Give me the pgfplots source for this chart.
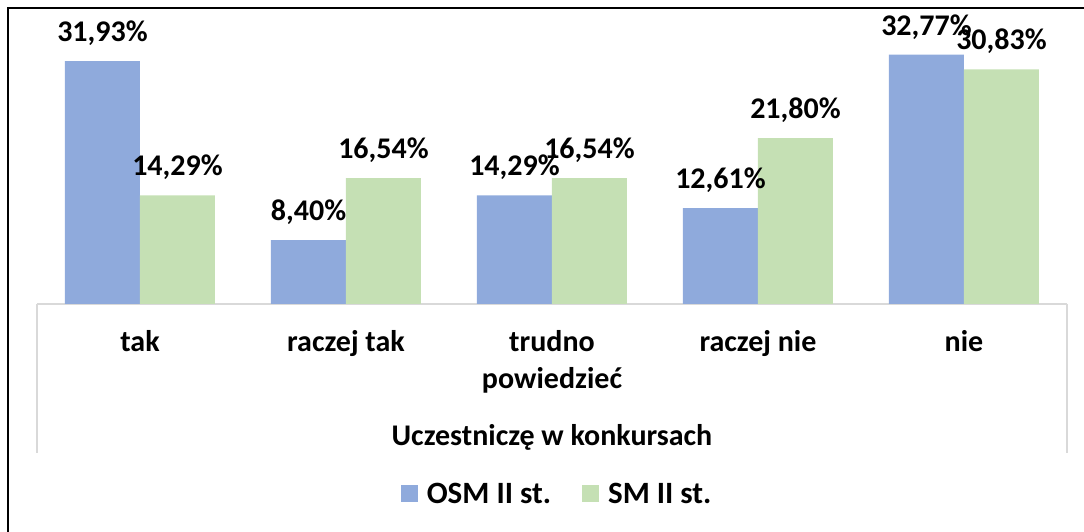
\documentclass[border=0pt]{standalone}
\usepackage{pgfplots}
\pgfplotsset{compat=1.18}
\usepackage{fontspec}
\setmainfont{Carlito}
\definecolor{osm}{HTML}{8FAADC}
\definecolor{sm}{HTML}{C5E0B4}
\definecolor{gridc}{HTML}{D9D9D9}
\newcommand{\bigb}{\fontsize{30}{37}\selectfont\bfseries}
\newcommand{\legb}{\fontsize{31}{37}\selectfont\bfseries}
\begin{document}
\begin{tikzpicture}
\useasboundingbox (0pt,0pt) rectangle (1084pt,532pt);
\begin{scope}
\clip (0pt,0pt) rectangle (1084pt,532pt);
\draw[line width=1.5pt] (8pt,-20pt) -- (8pt,524pt) -- (1100pt,524pt);
\end{scope}
\begin{axis}[
  at={(37pt,228pt)}, anchor=south west, scale only axis,
  width=1030pt, height=284pt,
  xmin=-0.5, xmax=4.5, ymin=0, ymax=37.32,
  enlargelimits=false,
  axis x line=bottom, axis y line=none,
  x axis line style={draw=gridc, line width=1.5pt, -},
  xtick=data, xtick style={draw=none}, major tick length=0pt,
  xticklabels={\strut tak, \strut raczej tak, {\strut trudno\\powiedzieć}, \strut raczej nie, \strut nie},
  xticklabel style={font=\bigb, align=center, anchor=north, yshift=-18pt},
  ybar=0pt, bar width=75pt,
  nodes near coords={\pgfmathprintnumber[fixed,fixed zerofill,precision=2,use comma,assume math mode=true]{\pgfplotspointmeta}\%},
  every node near coord/.append style={font=\bigb, black, yshift=12pt},
  xlabel={Uczestniczę w konkursach},
  xlabel style={font=\bigb, at={(axis description cs:0.5,-0.4965)}, anchor=base},
  legend style={at={(0.504,-0.669)}, anchor=center, draw=none, fill=none, font=\legb,
    legend columns=2, nodes={inner sep=0pt},
    /tikz/every odd column/.append style={column sep=9pt},
    /tikz/every even column/.append style={column sep=31pt}},
  legend image code/.code={\fill[#1] (0pt,-8.5pt) rectangle (17pt,8.5pt);},
  clip=false,
]
\addplot[fill=osm, draw=none] coordinates {(0,31.93) (1,8.40) (2,14.29) (3,12.61) (4,32.77)};
\addplot[fill=sm, draw=none] coordinates {(0,14.29) (1,16.54) (2,16.54) (3,21.80) (4,30.83)};
\legend{OSM II st., SM II st.}
\end{axis}
\draw[gridc, line width=1.5pt] (37pt,228pt) -- (37pt,79pt);
\draw[gridc, line width=1.5pt] (1067pt,228pt) -- (1067pt,79pt);
\end{tikzpicture}
\end{document}
